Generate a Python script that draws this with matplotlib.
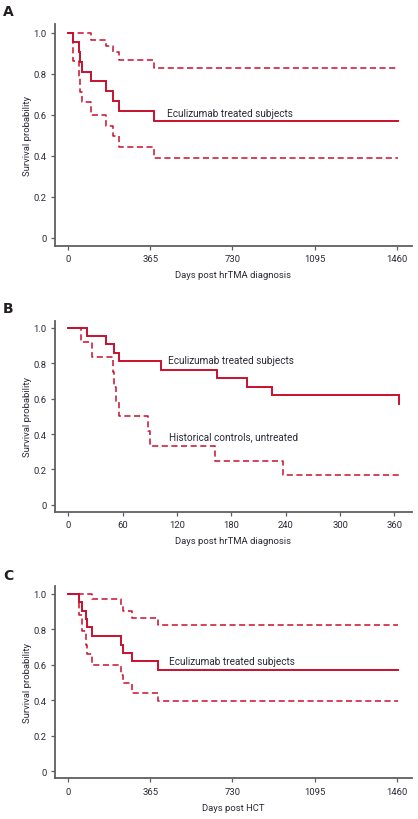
import matplotlib
matplotlib.use("Agg")
import matplotlib.pyplot as plt
from matplotlib import font_manager as fm

# ---------------- data ----------------
# Panel A: Eculizumab treated subjects, days post hrTMA diagnosis
a_days = [0, 22, 47, 54, 59, 103, 167, 200, 227, 381, 1465]
a_surv = [1.0, 0.952, 0.905, 0.857, 0.810, 0.762, 0.714, 0.667, 0.619, 0.571, 0.571]
a_up_days = [0, 103, 167, 200, 227, 381, 1465]
a_up = [1.0, 0.966, 0.937, 0.904, 0.867, 0.827, 0.827]
a_lo_days = [0, 22, 47, 54, 59, 103, 167, 200, 227, 381, 1465]
a_lo = [1.0, 0.863, 0.784, 0.71, 0.66, 0.60, 0.546, 0.494, 0.444, 0.391, 0.391]
a_xticks = [0, 365, 730, 1095, 1460]

# Panel B: first year, treated vs historical controls
b_days = [0, 21, 42, 51, 56, 102, 164, 197, 225, 365]
b_surv = [1.0, 0.952, 0.905, 0.857, 0.810, 0.762, 0.714, 0.667, 0.619, 0.571]
b_hist_days = [0, 14, 26, 49, 51, 53, 56, 88, 90, 162, 237, 365]
b_hist = [1.0, 0.917, 0.833, 0.75, 0.667, 0.583, 0.50, 0.417, 0.333, 0.25, 0.167, 0.167]
b_xticks = [0, 60, 120, 180, 240, 300, 360]

# Panel C: days post HCT
c_days = [0, 47, 59, 77, 82, 105, 233, 242, 282, 400, 1466]
c_surv = [1.0, 0.952, 0.905, 0.857, 0.810, 0.762, 0.714, 0.667, 0.619, 0.571, 0.571]
c_up_days = [0, 105, 233, 242, 282, 400, 1466]
c_up = [1.0, 0.968, 0.935, 0.90, 0.866, 0.826, 0.826]
c_lo_days = [0, 47, 59, 77, 82, 105, 233, 242, 282, 400, 1466]
c_lo = [1.0, 0.88, 0.79, 0.71, 0.66, 0.60, 0.545, 0.495, 0.44, 0.394, 0.394]
c_xticks = [0, 365, 730, 1095, 1460]

yticks = [0, 0.2, 0.4, 0.6, 0.8, 1.0]
ytick_labels = ["0", "0.2", "0.4", "0.6", "0.8", "1.0"]

# ---------------- style ----------------
names = {f.name for f in fm.fontManager.ttflist}
if "Liberation Sans Narrow" in names:
    FAM, FS, FSA = "Liberation Sans Narrow", 8.2, 8.6
else:
    FAM, FS, FSA = "Roboto", 6.8, 7.2
plt.rcParams["font.family"] = [FAM, "DejaVu Sans"]

RED = "#C8102E"
TXT = "#2a2a38"
SPINE = "#5f5f5f"

fig = plt.figure(figsize=(4.18, 8.2), dpi=100)
W, H = 418, 820


def make_ax(top_px, bot_px):
    return fig.add_axes([55 / W, 1 - bot_px / H, 357 / W, (bot_px - top_px) / H])


def style(ax, xlim, ylim, xticks, xlabel):
    ax.set_xlim(*xlim)
    ax.set_ylim(*ylim)
    for s in ("top", "right"):
        ax.spines[s].set_visible(False)
    for s in ("left", "bottom"):
        ax.spines[s].set_color(SPINE)
        ax.spines[s].set_linewidth(1.3)
    ax.set_xticks(xticks)
    ax.set_xticklabels([str(t) for t in xticks])
    ax.set_yticks(yticks)
    ax.set_yticklabels(ytick_labels)
    ax.tick_params(direction="out", length=3, width=0.9, color=SPINE,
                   labelsize=FS, labelcolor=TXT, pad=3)
    ax.set_xlabel(xlabel, fontsize=FS, color=TXT)
    ax.set_ylabel("Survival probability", fontsize=FS, color=TXT)
    h = ax.bbox.height
    w = ax.bbox.width
    ax.xaxis.set_label_coords(0.5, -24.5 / h)
    ax.yaxis.set_label_coords(-23 / w, 0.5)


def solid(ax, x, y):
    ax.step(x, y, where="post", color=RED, lw=1.4, solid_joinstyle="miter")


def dashed(ax, x, y):
    ax.step(x, y, where="post", color=RED, lw=1.1, linestyle=(0, (4, 2.3)))


# Panel A
axA = make_ax(25, 246.7)
dashed(axA, a_up_days, a_up)
dashed(axA, a_lo_days, a_lo)
solid(axA, a_days, a_surv)
style(axA, (-59, 1528), (-0.039, 1.042), a_xticks, "Days post hrTMA diagnosis")
axA.text(440, 0.61, "Eculizumab treated subjects", fontsize=FSA, color=TXT,
         va="center", ha="left")

# Panel B
axB = make_ax(321.7, 512.7)
dashed(axB, b_hist_days, b_hist)
solid(axB, b_days, b_surv)
style(axB, (-14.7, 379.5), (-0.038, 1.039), b_xticks, "Days post hrTMA diagnosis")
axB.text(110.5, 0.816, "Eculizumab treated subjects", fontsize=FSA, color=TXT,
         va="center", ha="left")
axB.text(111, 0.389, "Historical controls, untreated", fontsize=FSA, color=TXT,
         va="center", ha="left")

# Panel C
axC = make_ax(586.7, 779.3)
dashed(axC, c_up_days, c_up)
dashed(axC, c_lo_days, c_lo)
solid(axC, c_days, c_surv)
style(axC, (-59, 1528), (-0.039, 1.045), c_xticks, "Days post HCT")
axC.text(449, 0.619, "Eculizumab treated subjects", fontsize=FSA, color=TXT,
         va="center", ha="left")

# Panel letters
for letter, ypx in (("A", 12), ("B", 309), ("C", 576)):
    fig.text(3 / W, 1 - ypx / H, letter, fontsize=10, fontweight="bold",
             color="#231f20", va="center", ha="left", family="DejaVu Sans")

fig.savefig("out.png", dpi=100)
